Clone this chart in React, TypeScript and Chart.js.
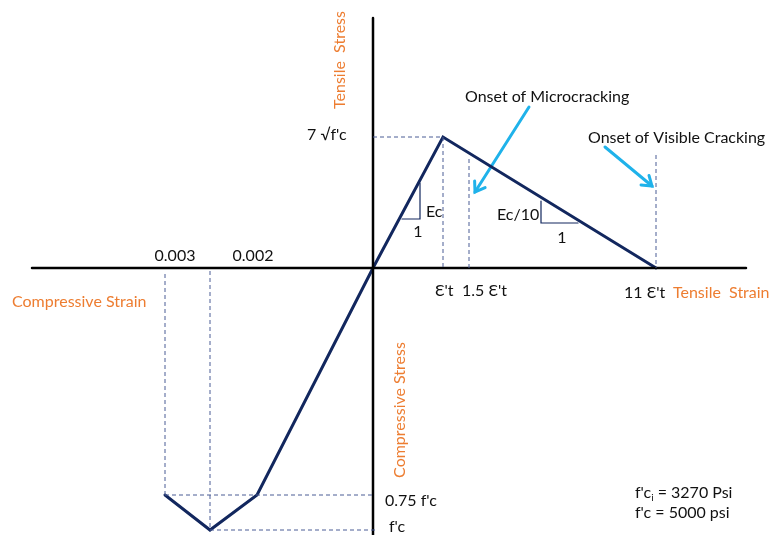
import React, { useEffect, useRef } from "react";
import { Chart, registerables } from "chart.js";

Chart.register(...registerables);

// Schematic diagram units (tension to the right / up, compression to the left / down)
// Key strain positions
const tensileStrainNames = ["Ɛ't", "1.5 Ɛ't", "11 Ɛ't"];
const tensileStrainPos = [7.0, 9.6, 28.3];
const compressiveStrainNames = ["0.003", "0.002"];
const compressiveStrainPos = [-20.8, -16.3];
// Key stress levels
const stressNames = ["7 √f'c", "0.75 f'c", "f'c"];
const peakTensileStress = 13.1;
const compStress075 = -22.7;
const compStressPeak = -26.2;
const compStress075X = -11.6;

// Stress–strain curve
const curveX = [compressiveStrainPos[0], compressiveStrainPos[1], compStress075X, 0, tensileStrainPos[0], tensileStrainPos[2]];
const curveY = [compStress075, compStressPeak, compStress075, 0, peakTensileStress, 0];

// Axes extents
const axisXRange = [-34.1, 37.3];
const axisYRange = [-26.8, 25.0];

// Guide tops for dashed verticals
const microTop = 10.9;
const visibleTop = 11.3;

// slope triangles [x0, x1, yTop, yBottom]
const ecTriangle = [2.9, 4.7, 8.5, 4.9];
const ec10Triangle = [16.8, 20.5, 6.7, 4.5];

// arrows [x0, y0, x1, y1]
const arrowMicro = [15.6, 16.1, 10.2, 7.6];
const arrowVisible = [23.2, 12.1, 27.9, 8.2];

const ORANGE = "#ED7D31";
const NAVY = "#12275E";
const DASH = "#4a5d95";
const ARROW = "#1FB2EA";
const FONT = "Lato, 'Open Sans', sans-serif";
const FS = 16;

const pt = (xs: number[], ys: number[]) => xs.map((x, i) => ({ x, y: ys[i] }));

type Txt = { t: string; x: number; y: number; c?: string; rot?: boolean; align?: CanvasTextAlign; sub?: string; rest?: string };

const texts: Txt[] = [
  { t: "Tensile  Stress", x: -3.3, y: 20.8, c: ORANGE, rot: true, align: "center" },
  { t: stressNames[0], x: -6.6, y: 13.3, align: "left" },
  { t: "Onset of Microcracking", x: 9.2, y: 17.1, align: "left" },
  { t: "Onset of Visible Cracking", x: 21.5, y: 13.0, align: "left" },
  { t: "Ec", x: 5.3, y: 5.6, align: "left" },
  { t: "1", x: 4.5, y: 3.6, align: "center" },
  { t: "Ec/10", x: 12.4, y: 5.3, align: "left" },
  { t: "1", x: 18.9, y: 3.0, align: "center" },
  { t: compressiveStrainNames[0], x: -19.8, y: 1.2, align: "center" },
  { t: compressiveStrainNames[1], x: -12.0, y: 1.2, align: "center" },
  { t: "Compressive Strain", x: -36.1, y: -3.4, c: ORANGE, align: "left" },
  { t: tensileStrainNames[0], x: 6.2, y: -2.3, align: "left" },
  { t: tensileStrainNames[1], x: 8.9, y: -2.3, align: "left" },
  { t: tensileStrainNames[2], x: 25.1, y: -2.5, align: "left" },
  { t: "Tensile  Strain", x: 30.0, y: -2.5, c: ORANGE, align: "left" },
  { t: "Compressive Stress", x: 2.7, y: -14.2, c: ORANGE, rot: true, align: "center" },
  { t: stressNames[1], x: 1.2, y: -23.3, align: "left" },
  { t: stressNames[2], x: 1.6, y: -25.9, align: "left" },
  { t: "f'c", sub: "i", rest: " = 3270 Psi", x: 26.2, y: -22.5, align: "left" },
  { t: "f'c = 5000 psi", x: 26.2, y: -24.5, align: "left" },
];

const textPlugin = {
  id: "diagramText",
  afterDatasetsDraw(chart: any) {
    const { ctx, scales } = chart;
    const sx = (v: number) => scales.x.getPixelForValue(v);
    const sy = (v: number) => scales.y.getPixelForValue(v);
    ctx.save();
    [arrowMicro, arrowVisible].forEach((a) => {
      const x0 = sx(a[0]), y0 = sy(a[1]), x1 = sx(a[2]), y1 = sy(a[3]);
      const ang = Math.atan2(y1 - y0, x1 - x0);
      const L = 11;
      ctx.strokeStyle = ARROW;
      ctx.lineWidth = 3;
      ctx.lineCap = "round";
      ctx.beginPath();
      ctx.moveTo(x1 - L * Math.cos(ang - 0.6), y1 - L * Math.sin(ang - 0.6));
      ctx.lineTo(x1, y1);
      ctx.lineTo(x1 - L * Math.cos(ang + 0.6), y1 - L * Math.sin(ang + 0.6));
      ctx.stroke();
    });
    ctx.textBaseline = "middle";
    texts.forEach((tx) => {
      ctx.fillStyle = tx.c || "#111";
      ctx.font = `${FS}px ${FONT}`;
      const x = sx(tx.x), y = sy(tx.y);
      if (tx.rot) {
        ctx.save();
        ctx.translate(x, y);
        ctx.rotate(-Math.PI / 2);
        ctx.textAlign = "center";
        ctx.fillText(tx.t, 0, 0);
        ctx.restore();
      } else if (tx.sub) {
        ctx.textAlign = "left";
        ctx.fillText(tx.t, x, y);
        let w = ctx.measureText(tx.t).width;
        ctx.font = `10px ${FONT}`;
        ctx.fillText(tx.sub, x + w, y + 5);
        w += ctx.measureText(tx.sub).width;
        ctx.font = `${FS}px ${FONT}`;
        ctx.fillText(tx.rest || "", x + w, y);
      } else {
        ctx.textAlign = tx.align || "left";
        ctx.fillText(tx.t, x, y);
      }
    });
    ctx.restore();
  },
};

export default function App() {
  const ref = useRef<HTMLCanvasElement>(null);
  useEffect(() => {
    document.body.style.margin = "0";
    const dash = (data: { x: number; y: number }[]) => ({
      data,
      showLine: true,
      borderColor: DASH,
      borderWidth: 1,
      borderDash: [4, 3],
      pointRadius: 0,
    });
    const solid = (data: { x: number; y: number }[], color: string, w: number) => ({
      data,
      showLine: true,
      borderColor: color,
      borderWidth: w,
      pointRadius: 0,
      borderCapStyle: "round",
    });
    const [tP, tM, tE] = tensileStrainPos;
    const [c3, c2] = compressiveStrainPos;
    const chart = new Chart(ref.current!, {
      type: "scatter",
      data: {
        datasets: [
          dash(pt([0, tP], [peakTensileStress, peakTensileStress])),
          dash(pt([tP, tP], [peakTensileStress, 0])),
          dash(pt([tM, tM], [microTop, 0])),
          dash(pt([tE, tE], [visibleTop, 0])),
          dash(pt([c3, c3], [-0.6, compStress075])),
          dash(pt([c2, c2], [-0.3, compStressPeak])),
          dash(pt([c3, 0], [compStress075, compStress075])),
          dash(pt([c2, 0.3], [compStressPeak, compStressPeak])),
          solid(pt(axisXRange, [0, 0]), "#000", 2.5),
          solid(pt([0, 0], axisYRange), "#000", 2.5),
          solid(pt([ecTriangle[0], ecTriangle[1], ecTriangle[1]], [ecTriangle[3], ecTriangle[3], ecTriangle[2]]), NAVY, 1.2),
          solid(pt([ec10Triangle[1], ec10Triangle[0], ec10Triangle[0]], [ec10Triangle[3], ec10Triangle[3], ec10Triangle[2]]), NAVY, 1.2),
          solid(pt(curveX, curveY), NAVY, 3),
          solid(pt([arrowMicro[0], arrowMicro[2]], [arrowMicro[1], arrowMicro[3]]), ARROW, 3),
          solid(pt([arrowVisible[0], arrowVisible[2]], [arrowVisible[1], arrowVisible[3]]), ARROW, 3),
        ] as any,
      },
      options: {
        animation: false,
        responsive: false,
        layout: { padding: 0 },
        plugins: { legend: { display: false }, tooltip: { enabled: false } },
        scales: {
          x: { type: "linear", min: -37.3, max: 40.0, display: false },
          y: { type: "linear", min: -26.7, max: 26.8, display: false },
        },
      },
      plugins: [textPlugin],
    });
    return () => chart.destroy();
  }, []);
  return <canvas ref={ref} width={773} height={535} style={{ display: "block" }} />;
}
